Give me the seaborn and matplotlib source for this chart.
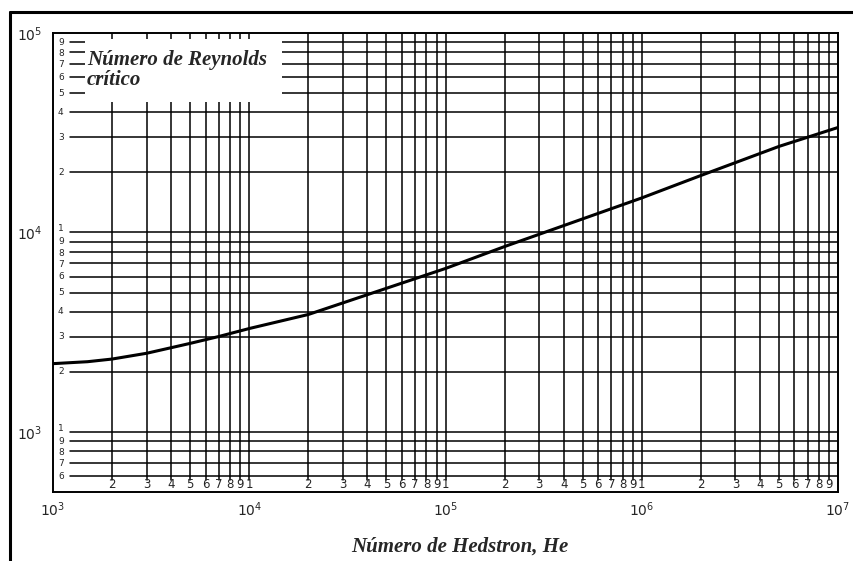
import numpy as np
import pandas as pd
import matplotlib
matplotlib.use("Agg")
import matplotlib.pyplot as plt
import matplotlib.transforms as mtransforms
from matplotlib.patches import Rectangle
from matplotlib.lines import Line2D
from matplotlib.ticker import NullLocator
import seaborn as sns

# Curva: numero de Reynolds critico vs numero de Hedstrom
hedstrom = [1e3, 1.5e3, 2e3, 3e3, 5e3, 7e3, 1e4, 2e4, 5e4, 1e5, 2e5, 5e5,
            1e6, 2e6, 5e6, 1e7]
reynolds_critico = [2200, 2250, 2320, 2480, 2780, 3010, 3300, 3880, 5250,
                    6600, 8500, 11700, 14900, 19300, 27000, 33600]

# Etiquetas de la rejilla
x_major = [1e3, 1e4, 1e5, 1e6, 1e7]
x_major_labels = ["10$^3$", "10$^4$", "10$^5$", "10$^6$", "10$^7$"]
y_major = [1e3, 1e4, 1e5]
y_major_labels = ["10$^3$", "10$^4$", "10$^5$"]
digitos = [1, 2, 3, 4, 5, 6, 7, 8, 9]

titulo_y = ["Número de Reynolds", "crítico"]
titulo_x = "Número de Hedstron, He"

df = pd.DataFrame({"He": hedstrom, "Re_c": reynolds_critico})

sns.set_style("white")
plt.rcParams["font.family"] = ["DejaVu Sans"]

fig = plt.figure(figsize=(8.54, 5.61), dpi=100)
ax = fig.add_axes([53 / 854, 1 - 492 / 561, 785 / 854, 459 / 561])
ax.set_xscale("log")
ax.set_yscale("log")
ax.set_xlim(1e3, 1e7)
ax.set_ylim(500, 1e5)

# rejilla vertical
for dec in [1e3, 1e4, 1e5, 1e6]:
    for d in digitos:
        xv = d * dec
        if xv <= 1e3:
            continue
        ax.axvline(xv, ymin=0.026, ymax=1, color="black", lw=1.1, zorder=1)

# rejilla horizontal
for dec in [1e2, 1e3, 1e4]:
    for d in digitos:
        yv = d * dec
        if yv < 600 or yv >= 1e5:
            continue
        ax.axhline(yv, xmin=0.022, xmax=1, color="black", lw=1.1, zorder=1)

# curva
sns.lineplot(data=df, x="He", y="Re_c", color="black", lw=2.2, ax=ax, zorder=4)

# digitos del eje x (dentro del area)
tx = mtransforms.blended_transform_factory(ax.transData, ax.transAxes)
for dec in [1e3, 1e4, 1e5, 1e6]:
    for d in digitos:
        xv = d * dec
        if xv <= 1e3:
            continue
        ax.text(xv, 0.016, str(d), transform=tx, ha="center", va="center",
                fontsize=8.5, zorder=5)

# digitos del eje y (dentro del area); se separan un poco los mas juntos
ty = mtransforms.blended_transform_factory(ax.transAxes, ax.transData)
ajuste = {1: 3.5, 8: -1.5, 7: -1.0}
for dec in [1e2, 1e3, 1e4]:
    for d in digitos:
        yv = d * dec
        if yv < 600 or yv >= 1e5:
            continue
        tr = mtransforms.offset_copy(ty, fig=fig, x=0, y=ajuste.get(d, 0),
                                     units="dots")
        ax.text(0.01, yv, str(d), transform=tr, ha="center", va="center",
                fontsize=6.5, zorder=5)

ax.set_xticks(x_major, labels=x_major_labels)
ax.set_yticks(y_major, labels=y_major_labels)
ax.xaxis.set_minor_locator(NullLocator())
ax.yaxis.set_minor_locator(NullLocator())
ax.tick_params(axis="both", length=0, labelsize=10)
ax.tick_params(axis="x", pad=6)
ax.tick_params(axis="y", pad=8)
ax.set_xlabel("")
ax.set_ylabel("")
for s in ax.spines.values():
    s.set_visible(True)
    s.set_color("black")
    s.set_linewidth(1.4)

# recuadro blanco con el titulo del eje y
ax.add_patch(Rectangle((0.041, 0.85), 0.251, 0.137, transform=ax.transAxes,
                       facecolor="white", edgecolor="none", zorder=3))
for linea, ypx in zip(titulo_y, [65, 85]):
    fig.text(87 / 854, 1 - ypx / 561, linea, ha="left", va="baseline",
             fontsize=15, family=["Liberation Serif"], fontweight="bold",
             fontstyle="italic", zorder=6)

fig.text(460 / 854, 1 - 547 / 561, titulo_x, ha="center", va="center",
         fontsize=15, family=["Liberation Serif"], fontweight="bold",
         fontstyle="italic")

# marco de la imagen escaneada
fig.add_artist(Line2D([10 / 854, 1], [1 - 12 / 561, 1 - 12 / 561],
                      color="black", lw=2.2, transform=fig.transFigure))
fig.add_artist(Line2D([10 / 854, 10 / 854], [0, 1 - 12 / 561],
                      color="black", lw=2.2, transform=fig.transFigure))

fig.savefig("out.png", dpi=100)
